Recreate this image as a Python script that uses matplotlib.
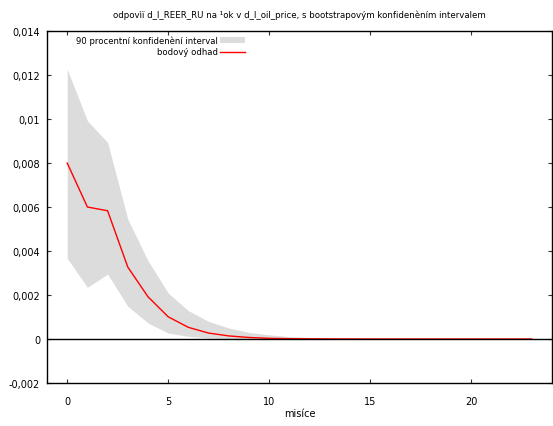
import numpy as np
import matplotlib.pyplot as plt
from matplotlib.ticker import FuncFormatter

months = np.arange(24)
point_est = [0.0080, 0.0060, 0.00583, 0.00327, 0.00192, 0.00101, 0.00053, 0.00027,
             0.00014, 0.00007, 0.00003, 0.000015, 0.000008, 0.000004, 0.000002, 0.000001,
             0.0, 0.0, 0.0, 0.0, 0.0, 0.0, 0.0, 0.0]
upper = [0.01227, 0.00992, 0.00894, 0.00545, 0.00356, 0.00209, 0.00129, 0.00080,
         0.00050, 0.00030, 0.00019, 0.00011, 0.00007, 0.00004, 0.00003, 0.00002,
         0.00001, 0.00001, 0.000005, 0.000003, 0.000002, 0.000001, 0.000001, 0.0]
lower = [0.00367, 0.00235, 0.00295, 0.00149, 0.00073, 0.00027, 0.00012, 0.00005,
         0.00002, 0.00001, 0.000005, 0.0, 0.0, 0.0, 0.0, 0.0,
         0.0, 0.0, 0.0, 0.0, 0.0, 0.0, 0.0, 0.0]

plt.rcParams['font.family'] = ['DejaVu Sans']
plt.rcParams['font.size'] = 7

fig = plt.figure(figsize=(5.53, 4.27), dpi=100)
ax = fig.add_axes([0.085, 0.1007, 0.913, 0.8243])

ax.fill_between(months, lower, upper, color='#dcdcdc', linewidth=0,
                label='90 procentní konfidenèní interval')
ax.plot(months, point_est, color='red', linewidth=1, label='bodový odhad')
ax.axhline(0, color='black', linewidth=1)

ax.set_xlim(-1, 24)
ax.set_ylim(-0.002, 0.014)
ax.set_xticks([0, 5, 10, 15, 20])
ax.set_yticks(np.arange(-0.002, 0.0141, 0.002))


def fmt(v, pos):
    s = ('%.3f' % v).rstrip('0').rstrip('.')
    if s in ('-0', ''):
        s = '0'
    return s.replace('.', ',')


ax.yaxis.set_major_formatter(FuncFormatter(fmt))
ax.tick_params(direction='in', top=True, right=True, length=3, width=0.8,
               labelsize=7, colors='#333333', labelcolor='black')
ax.tick_params(axis='x', pad=9)
ax.tick_params(axis='y', pad=5)
for s in ax.spines.values():
    s.set_linewidth(1)

ax.set_xlabel('misíce', fontsize=7, labelpad=2)
ax.set_title('odpovìï d_l_REER_RU na ¹ok v d_l_oil_price, s bootstrapovým konfidenèním intervalem',
             fontsize=6.2, pad=10)

leg = ax.legend(loc='upper right', bbox_to_anchor=(245 / 553, 1 - 36 / 427),
                bbox_transform=fig.transFigure, frameon=False,
                markerfirst=False, fontsize=6.1, handlelength=2.9, handletextpad=0.3,
                labelspacing=0.35, borderpad=0, borderaxespad=0)

fig.savefig('out.png', dpi=100)
